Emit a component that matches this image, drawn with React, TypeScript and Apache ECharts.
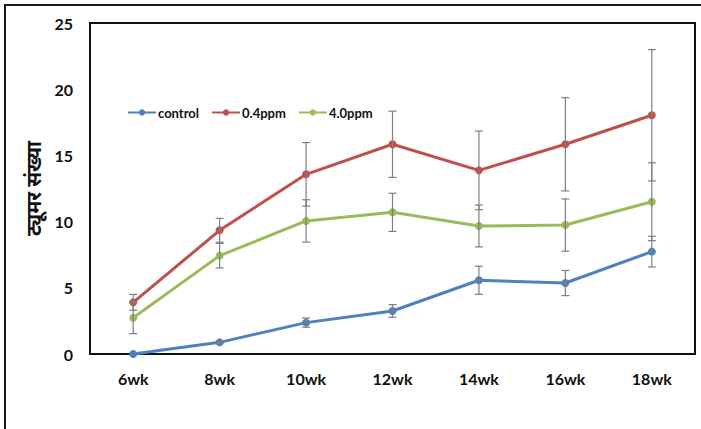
import React, { useEffect, useRef } from "react";
import * as echarts from "echarts";

const categories = ["6wk", "8wk", "10wk", "12wk", "14wk", "16wk", "18wk"];
const seriesNames = ["control", "0.4ppm", "4.0ppm"];
const controlValues = [0, 0.88, 2.37, 3.25, 5.57, 5.36, 7.73];
const controlErrors = [0, 0.1, 0.35, 0.48, 1.06, 0.95, 1.16];
const ppm04Values = [3.9, 9.34, 13.57, 15.84, 13.87, 15.84, 18.03];
const ppm04Errors = [0.6, 0.9, 2.4, 2.5, 2.97, 3.52, 4.96];
const ppm40Values = [2.74, 7.43, 10.05, 10.7, 9.67, 9.74, 11.5];
const ppm40Errors = [1.2, 0.93, 1.6, 1.44, 1.58, 1.97, 2.94];
const yTicks = [0, 5, 10, 15, 20, 25];
const colors = ["#4F81BD", "#C0504D", "#9BBB59"];

const App: React.FC = () => {
  const ref = useRef<HTMLDivElement>(null);
  useEffect(() => {
    document.body.style.margin = "0";
    if (!ref.current) return;
    const chart = echarts.init(ref.current, undefined, { renderer: "svg" });
    const values = [controlValues, ppm04Values, ppm40Values];
    const errors = [controlErrors, ppm04Errors, ppm40Errors];
    const errorData: number[][] = [];
    values.forEach((vals, s) => {
      vals.forEach((v, i) => {
        if (errors[s][i] > 0) errorData.push([i, v - errors[s][i], v + errors[s][i]]);
      });
    });
    const font = "Lato, 'Open Sans', sans-serif";
    chart.setOption({
      animation: false,
      color: colors,
      graphic: [
        {
          type: "rect",
          shape: { x: 5, y: 5, width: 760, height: 500 },
          style: { fill: "none", stroke: "#1a1a1a", lineWidth: 2 },
          silent: true,
        },
      ],
      legend: {
        data: seriesNames,
        left: 122,
        top: 101,
        itemWidth: 28,
        itemHeight: 8,
        itemGap: 12,
        textStyle: { fontFamily: font, fontWeight: "bold", fontSize: 13, color: "#111", padding: [0, 0, 0, -3] },
      },
      grid: {
        left: 90,
        top: 23,
        right: 6,
        bottom: 75,
        show: true,
        borderColor: "#111",
        borderWidth: 2,
        containLabel: false,
      },
      xAxis: {
        type: "category",
        data: categories,
        boundaryGap: true,
        axisLine: { show: true, lineStyle: { color: "#111", width: 2 } },
        axisTick: { show: false },
        axisLabel: {
          fontFamily: font,
          fontWeight: "bold",
          fontSize: 16,
          color: "#111",
          margin: 16,
        },
      },
      yAxis: {
        type: "value",
        min: yTicks[0],
        max: yTicks[yTicks.length - 1],
        interval: 5,
        name: "ट्यूमर संख्या",
        nameLocation: "middle",
        nameGap: 46,
        nameTextStyle: {
          fontFamily: "'Noto Sans', 'Noto Sans Devanagari', sans-serif",
          fontWeight: "bold",
          fontSize: 20,
          color: "#111",
        },
        splitLine: { show: false },
        axisLine: { show: true, lineStyle: { color: "#111", width: 2 } },
        axisTick: { show: false },
        axisLabel: {
          fontFamily: font,
          fontWeight: "bold",
          fontSize: 16,
          color: "#111",
          margin: 17,
        },
      },
      series: [
        ...seriesNames.map((name, s) => ({
          name,
          type: "line",
          data: values[s],
          symbol: "circle",
          symbolSize: 8,
          lineStyle: { width: 3, color: colors[s] },
          itemStyle: { color: colors[s] },
          z: 3,
        })),
        {
          type: "custom",
          name: "errors",
          data: errorData,
          z: 4,
          renderItem: (params: any, api: any) => {
            const x = api.value(0);
            const lo = api.coord([x, api.value(1)]);
            const hi = api.coord([x, api.value(2)]);
            const cap = 4;
            const style = { stroke: "#7f7f7f", lineWidth: 1.2 };
            return {
              type: "group",
              children: [
                { type: "line", shape: { x1: lo[0], y1: lo[1], x2: hi[0], y2: hi[1] }, style },
                { type: "line", shape: { x1: lo[0] - cap, y1: lo[1], x2: lo[0] + cap, y2: lo[1] }, style },
                { type: "line", shape: { x1: hi[0] - cap, y1: hi[1], x2: hi[0] + cap, y2: hi[1] }, style },
              ],
            };
          },
        },
      ],
    });
    return () => chart.dispose();
  }, []);
  return <div ref={ref} style={{ width: 701, height: 429 }} />;
};

export default App;
